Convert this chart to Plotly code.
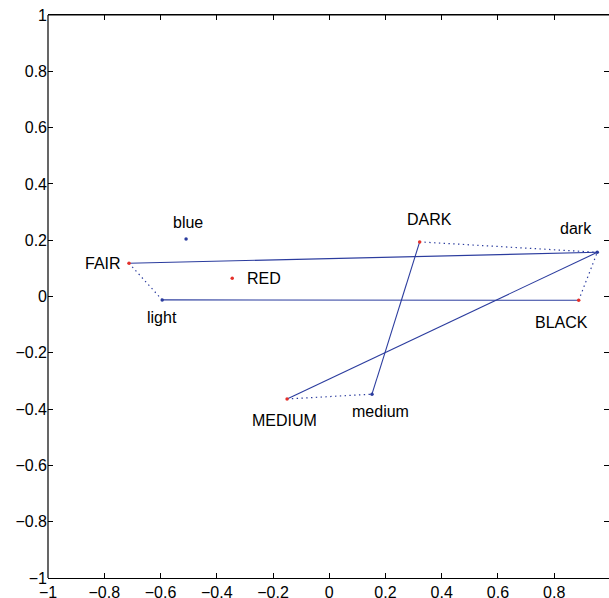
import plotly.graph_objects as go

# ---- data ----
upper_words = ["FAIR", "RED", "DARK", "BLACK", "MEDIUM"]
upper_x = [-0.712, -0.345, 0.3215, 0.887, -0.150]
upper_y = [0.118, 0.065, 0.194, -0.0135, -0.364]

lower_words = ["blue", "light", "dark", "medium"]
lower_x = [-0.509, -0.594, 0.953, 0.152]
lower_y = [0.204, -0.012, 0.157, -0.347]

solid_pairs = [("FAIR", "dark"), ("BLACK", "light"), ("DARK", "medium"), ("MEDIUM", "dark")]
dotted_pairs = [("FAIR", "light"), ("DARK", "dark"), ("BLACK", "dark"), ("MEDIUM", "medium")]

tick_vals = [-1, -0.8, -0.6, -0.4, -0.2, 0, 0.2, 0.4, 0.6, 0.8, 1]
tick_text = ["\u22121", "\u22120.8", "\u22120.6", "\u22120.4", "\u22120.2", "0", "0.2", "0.4", "0.6", "0.8", "1"]

# ---- styles ----
BLUE = "#2b3c9e"
RED = "#e5302a"
FONT = "Liberation Sans, Arial, Helvetica, sans-serif"
X_RANGE = [-1, 0.9947]
Y_RANGE = [-1, 1]

# label offsets in pixels: (xanchor, xshift, yshift)
label_style = {
    "FAIR": ("right", -7, 0),
    "RED": ("left", 14, 0),
    "DARK": ("center", 9.5, 22.7),
    "BLACK": ("center", -17, -22),
    "MEDIUM": ("center", -3, -22),
    "blue": ("center", 2, 17),
    "light": ("center", 0, -17.5),
    "dark": ("center", -21, 24),
    "medium": ("center", 9, -17.5),
}

pos = {}
for w, x, y in zip(upper_words, upper_x, upper_y):
    pos[w] = (x, y)
for w, x, y in zip(lower_words, lower_x, lower_y):
    pos[w] = (x, y)


def seg_xy(pairs):
    xs, ys = [], []
    for a, b in pairs:
        xs += [pos[a][0], pos[b][0], None]
        ys += [pos[a][1], pos[b][1], None]
    return xs, ys


fig = go.Figure()
sx, sy = seg_xy(solid_pairs)
fig.add_trace(go.Scatter(x=sx, y=sy, mode="lines", line=dict(color=BLUE, width=1.1),
                         hoverinfo="skip", showlegend=False))
dx, dy = seg_xy(dotted_pairs)
fig.add_trace(go.Scatter(x=dx, y=dy, mode="lines",
                         line=dict(color=BLUE, width=1.2, dash="1.4px,3.4px"),
                         hoverinfo="skip", showlegend=False))
fig.add_trace(go.Scatter(x=lower_x, y=lower_y, mode="markers",
                         marker=dict(color=BLUE, size=3.5, line=dict(width=0)),
                         text=lower_words, showlegend=False))
fig.add_trace(go.Scatter(x=upper_x, y=upper_y, mode="markers",
                         marker=dict(color=RED, size=3.5, line=dict(width=0)),
                         text=upper_words, showlegend=False))

for w, (x, y) in pos.items():
    xa, xs_, ys_ = label_style[w]
    fig.add_annotation(x=x, y=y, text=w, showarrow=False, xanchor=xa, yanchor="middle",
                       xshift=xs_, yshift=ys_, borderpad=0,
                       font=dict(family=FONT, size=16, color="black"))

# partially visible "1" at the right end of the x axis
fig.add_annotation(x=1, y=0, xref="x", yref="paper", text="1", showarrow=False,
                   xanchor="center", yanchor="top", yshift=-7, borderpad=0,
                   font=dict(family=FONT, size=16, color="black"))

# left and top border lines
fig.add_shape(type="line", xref="paper", yref="paper", x0=0, x1=0, y0=0, y1=1,
              line=dict(color="black", width=1.2))
fig.add_shape(type="line", xref="paper", yref="paper", x0=0, x1=1, y0=1, y1=1,
              line=dict(color="black", width=1.2))

fig.update_layout(
    width=609, height=598,
    margin=dict(l=48, r=0, t=15, b=20, autoexpand=False),
    paper_bgcolor="white", plot_bgcolor="white",
    font=dict(family=FONT, size=16, color="black"),
    showlegend=False,
    xaxis=dict(range=X_RANGE, tickvals=tick_vals, ticktext=tick_text, automargin=False,
               showgrid=False, zeroline=False, showline=True, linecolor="black",
               linewidth=1.2, ticks="inside", ticklen=5, tickcolor="black", tickwidth=1,
               ticklabeloverflow="allow"),
    yaxis=dict(range=Y_RANGE, tickvals=tick_vals, ticktext=tick_text, automargin=False,
               showgrid=False, zeroline=False, showline=False,
               ticks="inside", ticklen=5, tickcolor="black", tickwidth=1,
               ticklabeloverflow="allow"),
    xaxis2=dict(range=X_RANGE, tickvals=tick_vals, overlaying="x", side="top", anchor="y",
                showticklabels=False, automargin=False, showgrid=False, zeroline=False,
                showline=True, linecolor="black", linewidth=1.2,
                ticks="inside", ticklen=5, tickcolor="black", tickwidth=1),
    yaxis2=dict(range=Y_RANGE, tickvals=tick_vals, overlaying="y", side="right", anchor="x",
                showticklabels=False, automargin=False, showgrid=False, zeroline=False,
                showline=False, ticks="inside", ticklen=5, tickcolor="black", tickwidth=1),
)
# invisible trace so the mirrored tick axes are drawn
fig.add_trace(go.Scatter(x=[None], y=[None], xaxis="x2", yaxis="y2", mode="markers",
                         hoverinfo="skip", showlegend=False))

# remove the page's default 8px body margin so the figure fills the window exactly
fig.write_html("out.html", config={"displayModeBar": False},
               post_script="document.body.style.margin='0px';")
